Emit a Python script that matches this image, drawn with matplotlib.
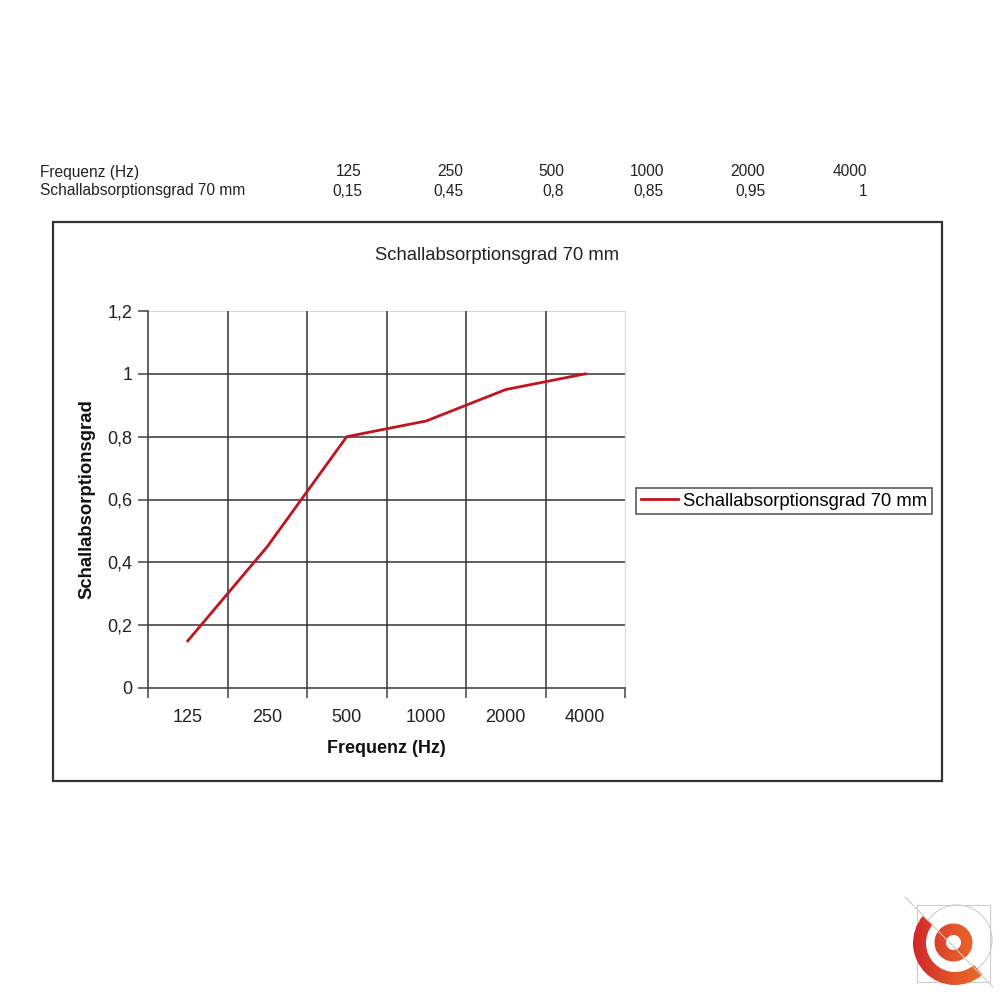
import matplotlib.pyplot as plt
import numpy as np
from matplotlib.patches import Rectangle, Wedge, Circle
from matplotlib.colors import LinearSegmentedColormap

plt.rcParams['font.family'] = ['Liberation Sans', 'DejaVu Sans']

# data
frequencies = ['125', '250', '500', '1000', '2000', '4000']
absorption = [0.15, 0.45, 0.8, 0.85, 0.95, 1.0]
absorption_text = ['0,15', '0,45', '0,8', '0,85', '0,95', '1']
series_name = 'Schallabsorptionsgrad 70 mm'
y_ticks = [0, 0.2, 0.4, 0.6, 0.8, 1.0, 1.2]
y_tick_labels = ['0', '0,2', '0,4', '0,6', '0,8', '1', '1,2']

fig = plt.figure(figsize=(10, 10), dpi=100)

# table above the chart
table_x = [0.362, 0.463, 0.564, 0.664, 0.765, 0.867]
fig.text(0.040, 0.828, 'Frequenz (Hz)', fontsize=11.2, va='center', color='#222222')
fig.text(0.040, 0.809, series_name, fontsize=11.2, va='center', color='#222222')
for xp, f, a in zip(table_x, frequencies, absorption_text):
    fig.text(xp, 0.828, f, fontsize=11.2, ha='right', va='center', color='#222222')
    fig.text(xp, 0.809, a, fontsize=11.2, ha='right', va='center', color='#222222')

# chart frame
fig.patches.append(Rectangle((0.053, 0.219), 0.889, 0.559, transform=fig.transFigure,
                             fill=False, edgecolor='#333333', linewidth=1.6))
fig.text(0.497, 0.745, series_name, fontsize=13.3, ha='center', va='center', color='#222222')

ax = fig.add_axes([0.148, 0.312, 0.477, 0.377])
x = np.arange(len(frequencies)) + 0.5
line, = ax.plot(x, absorption, color='#c0141e', linewidth=2, label=series_name)

ax.set_xlim(0, 6)
ax.set_ylim(0, 1.2)
for yv in y_ticks[1:-1]:
    ax.axhline(yv, color='#333333', linewidth=1.1, zorder=0)
ax.axhline(1.2, color='#cccccc', linewidth=1.1, zorder=0)
for xv in range(1, 6):
    ax.axvline(xv, color='#333333', linewidth=1.1, zorder=0)

ax.spines['top'].set_visible(False)
ax.spines['right'].set_color('#dddddd')
ax.spines['left'].set_color('#444444')
ax.spines['bottom'].set_color('#444444')
ax.spines['left'].set_linewidth(1.2)
ax.spines['bottom'].set_linewidth(1.2)

ax.set_yticks(y_ticks)
ax.set_yticklabels(y_tick_labels)
ax.set_xticks(range(0, 7))
ax.set_xticklabels([])
ax.set_xticks(x, minor=True)
ax.set_xticklabels(frequencies, minor=True)
ax.tick_params(axis='x', which='major', length=7, width=1.1, color='#444444')
ax.tick_params(axis='x', which='minor', length=0, pad=15, labelsize=13, labelcolor='#222222')
ax.tick_params(axis='y', length=7, width=1.1, color='#444444', pad=4, labelsize=13, labelcolor='#222222')

ax.set_xlabel('Frequenz (Hz)', fontsize=13, fontweight='bold', labelpad=10, color='#111111')
ax.set_ylabel('Schallabsorptionsgrad', fontsize=13.3, fontweight='bold', labelpad=9, color='#111111')

leg = fig.legend(handles=[line], loc='center left', bbox_to_anchor=(0.636, 0.499),
                 fontsize=13.3, frameon=True, fancybox=False, edgecolor='#333333',
                 handlelength=2.0, handletextpad=0.3, borderpad=0.25, borderaxespad=0)
leg.get_frame().set_linewidth(1.2)

# logo in the corner
lg = fig.add_axes([0.89, 0.0, 0.11, 0.11])
lg.set_xlim(890, 1000)
lg.set_ylim(0, 110)
lg.set_aspect('equal')
lg.axis('off')
lg.add_patch(Rectangle((917, 18), 73, 77, fill=False, edgecolor='#cccccc', linewidth=0.8))
lg.add_patch(Circle((957, 60), 35, fill=False, edgecolor='#cccccc', linewidth=0.8))
lg.plot([905, 993], [103, 13], color='#cccccc', linewidth=0.8, zorder=4)
outer = Wedge((955, 57), 42, 140, 311, width=13, facecolor='none', edgecolor='none')
inner = Wedge((953.5, 57.5), 19, 0, 360, width=11.5, facecolor='none', edgecolor='none')
lg.add_patch(outer)
lg.add_patch(inner)
grad = np.linspace(0, 1, 100).reshape(1, -1)
cmap = LinearSegmentedColormap.from_list('logo', ['#cc1f2a', '#e2542a', '#ec7a22'])
for p in (outer, inner):
    im = lg.imshow(grad, extent=(905, 1000, 5, 105), cmap=cmap, aspect='auto', zorder=3)
    im.set_clip_path(p)

fig.savefig('out.png', dpi=100, facecolor='white')
